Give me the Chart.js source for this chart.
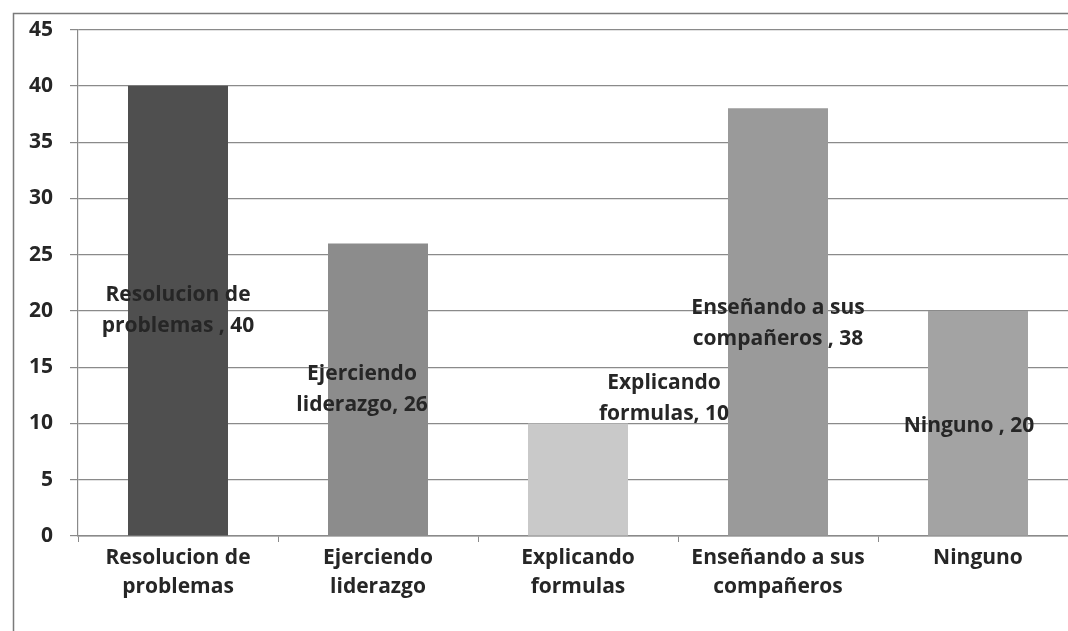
<!DOCTYPE html>
<html>
<head>
<meta charset="utf-8">
<script src="https://cdn.jsdelivr.net/npm/chart.js@4"></script>
<style>
  html, body { margin: 0; padding: 0; background: #fff; overflow: hidden; }
  #wrap { position: relative; width: 1090px; height: 631px; }
</style>
</head>
<body>
<div id="wrap"><canvas id="barChart"></canvas></div>
<script>
// chart data
const categories = [
    ["Resolucion de", "problemas"],
    ["Ejerciendo", "liderazgo"],
    ["Explicando", "formulas"],
    ["Enseñando a sus", "compañeros"],
    ["Ninguno"]
];
const values = [40, 26, 10, 38, 20];
const labelSeparators = [" , ", ", ", ", ", " , ", " , "];
const yTicks = [0, 5, 10, 15, 20, 25, 30, 35, 40, 45];

const barColors = ["#4f4f4f", "#8c8c8c", "#c9c9c9", "#9a9a9a", "#a3a3a3"];
// label nudges (px) - some data labels were moved by hand in the original
const labelShift = [[0, 0], [-16, 0], [86, -81], [0, 2], [-9, 3]];

const FONT = "'Open Sans', Lato, sans-serif";

const framePlugin = {
    id: "frame",
    beforeDraw(chart) {
        const ctx = chart.ctx;
        ctx.save();
        ctx.strokeStyle = "#7a7a7a";
        ctx.lineWidth = 1.5;
        ctx.strokeRect(13.5, 13.5, chart.width + 20, chart.height + 20);
        ctx.restore();
    }
};

const barLabelPlugin = {
    id: "barLabels",
    afterDatasetsDraw(chart) {
        const ctx = chart.ctx;
        const meta = chart.getDatasetMeta(0);
        ctx.save();
        ctx.font = "bold 21px " + FONT;
        ctx.fillStyle = "#262626";
        ctx.textAlign = "center";
        ctx.textBaseline = "middle";
        meta.data.forEach((bar, i) => {
            const lines = categories[i].slice();
            lines[lines.length - 1] += labelSeparators[i] + values[i];
            const cx = bar.x + labelShift[i][0];
            const cy = (bar.y + bar.base) / 2 + labelShift[i][1];
            const lh = 31;
            const top = cy - (lines.length - 1) * lh / 2;
            lines.forEach((ln, j) => ctx.fillText(ln, cx, top + j * lh));
        });
        ctx.restore();
    }
};

const ctx = document.getElementById("barChart").getContext("2d");
new Chart(ctx, {
    type: "bar",
    data: {
        labels: categories,
        datasets: [{
            data: values,
            backgroundColor: barColors,
            borderWidth: 0,
            categoryPercentage: 1,
            barPercentage: 0.5
        }]
    },
    options: {
        responsive: true,
        maintainAspectRatio: false,
        animation: false,
        layout: { padding: { top: 29, left: 0, right: 12, bottom: 0 } },
        plugins: {
            legend: { display: false },
            tooltip: { enabled: false }
        },
        scales: {
            x: {
                grid: {
                    offset: true,
                    drawOnChartArea: false,
                    drawTicks: true,
                    tickLength: 6,
                    color: "#8a8a8a"
                },
                border: { color: "#8a8a8a", width: 1.5 },
                ticks: {
                    color: "#262626",
                    font: { family: FONT, size: 21, weight: "bold", lineHeight: 1.4 },
                    padding: 1,
                    maxRotation: 0,
                    autoSkip: false
                },
                afterFit(scale) { scale.height = 95; }
            },
            y: {
                min: 0,
                max: 45,
                afterBuildTicks(scale) { scale.ticks = yTicks.map(v => ({ value: v })); },
                grid: {
                    color: "#8a8a8a",
                    lineWidth: 1.2,
                    tickLength: 8
                },
                border: { color: "#8a8a8a", width: 1.2 },
                ticks: {
                    color: "#262626",
                    font: { family: FONT, size: 21, weight: "bold" },
                    padding: 17
                },
                afterFit(scale) { scale.width = 78; }
            }
        }
    },
    plugins: [framePlugin, barLabelPlugin]
});
</script>
</body>
</html>
